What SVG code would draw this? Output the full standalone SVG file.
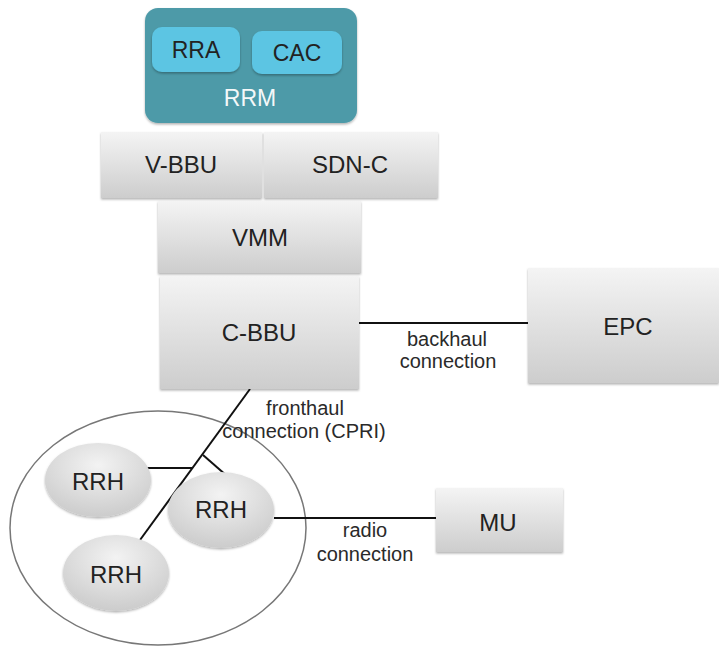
<svg xmlns="http://www.w3.org/2000/svg" width="719" height="646" viewBox="0 0 719 646">
<defs>
<linearGradient id="gbox" x1="0" y1="0" x2="0" y2="1">
<stop offset="0" stop-color="#f4f4f4"/>
<stop offset="1" stop-color="#cdcdcd"/>
</linearGradient>
<radialGradient id="gell" cx="0.5" cy="0.3" r="0.75">
<stop offset="0" stop-color="#f3f3f3"/>
<stop offset="1" stop-color="#c9c9c9"/>
</radialGradient>
<filter id="sh" x="-10%" y="-10%" width="120%" height="130%">
<feDropShadow dx="0" dy="1.5" stdDeviation="1.2" flood-color="#000" flood-opacity="0.3"/>
</filter>
</defs>
<style>
.box{fill:url(#gbox);filter:url(#sh)}
.ell{fill:url(#gell);filter:url(#sh)}
.t{font-family:"Liberation Sans",Arial,sans-serif;font-size:24px;fill:#222;text-anchor:middle}
.s{font-family:"Liberation Sans",Arial,sans-serif;font-size:20px;fill:#2a2a2a;text-anchor:middle}
.ln{stroke:#111;stroke-width:2;fill:none}
</style>
<rect width="719" height="646" fill="#fff"/>
<ellipse id="cluster" cx="158" cy="528" rx="148" ry="117" fill="none" stroke="#777" stroke-width="1.5"/>
<g id="connectors">
<line class="ln" x1="359" y1="323" x2="529" y2="323"/>
<line class="ln" x1="274" y1="518" x2="436" y2="518"/>
<line class="ln" x1="250" y1="389" x2="140" y2="540"/>
<line class="ln" x1="145" y1="468" x2="192" y2="468"/>
<line class="ln" x1="203" y1="455" x2="227" y2="476"/>
</g>
<g id="RRM">
<rect x="145" y="8" width="212" height="115" rx="13" fill="#4e9aa8" filter="url(#sh)"/>
<text class="t" x="250" y="106" style="fill:#f4f8f9;font-size:23px">RRM</text>
</g>
<g id="RRA">
<rect x="152" y="27" width="88" height="45" rx="10" fill="#5cc5e3" filter="url(#sh)"/>
<text class="t" x="196" y="58" style="font-size:23px">RRA</text>
</g>
<g id="CAC">
<rect x="252" y="31" width="90" height="43" rx="10" fill="#5cc5e3" filter="url(#sh)"/>
<text class="t" x="297" y="61" style="font-size:23px">CAC</text>
</g>
<g id="V-BBU">
<rect class="box" x="101" y="132" width="161" height="66"/>
<text class="t" x="181" y="173">V-BBU</text>
</g>
<g id="SDN-C">
<rect class="box" x="264" y="132" width="174" height="66"/>
<text class="t" x="350" y="173">SDN-C</text>
</g>
<g id="VMM">
<rect class="box" x="158" y="201" width="203" height="72"/>
<text class="t" x="260" y="246">VMM</text>
</g>
<g id="C-BBU">
<rect class="box" x="160" y="276" width="199" height="113"/>
<text class="t" x="259" y="341">C-BBU</text>
</g>
<g id="EPC">
<rect class="box" x="528" y="268" width="191" height="115"/>
<text class="t" x="628" y="335">EPC</text>
</g>
<g id="MU">
<rect class="box" x="436" y="488" width="127" height="64"/>
<text class="t" x="498" y="531">MU</text>
</g>
<g id="RRH1">
<ellipse class="ell" cx="98" cy="480" rx="53" ry="37"/>
<text class="t" x="98" y="490">RRH</text>
</g>
<g id="RRH2">
<ellipse class="ell" cx="221" cy="510" rx="53" ry="38"/>
<text class="t" x="221" y="518">RRH</text>
</g>
<g id="RRH3">
<ellipse class="ell" cx="116" cy="573" rx="53" ry="38"/>
<text class="t" x="116" y="583">RRH</text>
</g>
<g id="labels">
<text class="s" x="447" y="346">backhaul</text>
<text class="s" x="448" y="368">connection</text>
<text class="s" x="305" y="415">fronthaul</text>
<text class="s" x="304" y="438">connection (CPRI)</text>
<text class="s" x="365" y="537">radio</text>
<text class="s" x="365" y="561">connection</text>
</g>
</svg>
